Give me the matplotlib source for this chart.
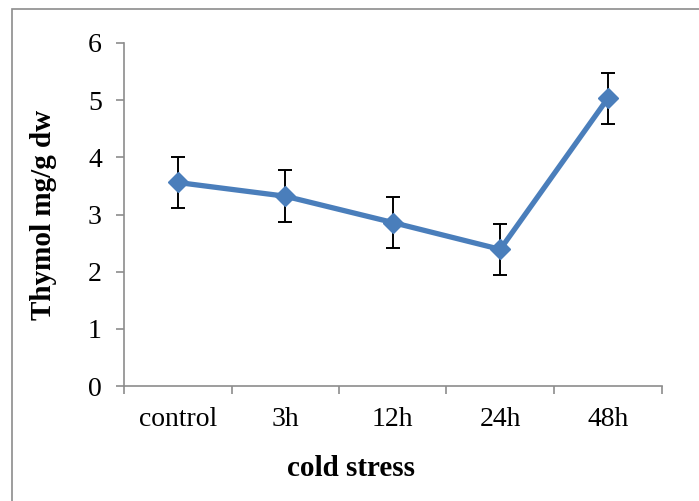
import numpy as np
import matplotlib.pyplot as plt
from matplotlib.patches import Rectangle

# data
categories = ['control', '3h', '12h', '24h', '48h']
thymol = [3.56, 3.32, 2.86, 2.39, 5.03]
errors = [0.45, 0.45, 0.45, 0.45, 0.45]

plt.rcParams['font.family'] = ['Liberation Serif', 'DejaVu Serif']

fig = plt.figure(figsize=(6.99, 5.01), dpi=100)
ax = fig.add_axes([124 / 699, 115 / 501, 537.5 / 699, 343 / 501])

# outer chart border (Excel style)
fig.patches.append(Rectangle((12 / 699, -0.1), 1.2, (501 - 9) / 501 + 0.1,
                             transform=fig.transFigure, fill=False,
                             edgecolor='#8c8c8c', linewidth=1.2))

x = np.arange(len(categories))
ax.errorbar(x, thymol, yerr=errors, fmt='none', ecolor='black',
            elinewidth=1.4, capsize=5, capthick=1.4, zorder=2)
ax.plot(x, thymol, color='#4a7ebb', linewidth=3.8, marker='D',
        markersize=10, zorder=3)

ax.set_xlim(-0.5, len(categories) - 0.5)
ax.set_ylim(0, 6)
ax.set_yticks(range(0, 7))

ax.set_xticks(x)
ax.set_xticklabels(categories)
ax.set_xticks(np.arange(-0.5, len(categories)), minor=True)
ax.tick_params(axis='x', which='major', length=0, pad=15, labelsize=20)
ax.tick_params(axis='x', which='minor', length=6, color='#8c8c8c', width=1.2)
ax.tick_params(axis='y', length=6, color='#8c8c8c', width=1.2, pad=10,
               labelsize=20)

for side in ['top', 'right']:
    ax.spines[side].set_visible(False)
for side in ['left', 'bottom']:
    ax.spines[side].set_color('#8c8c8c')
    ax.spines[side].set_linewidth(1.2)

ax.set_xlabel('cold stress', fontsize=21, fontweight='bold', labelpad=16)
ax.xaxis.set_label_coords(0.423, -0.2)
ax.set_ylabel('Thymol mg/g dw', fontsize=21, fontweight='bold', labelpad=22)

fig.savefig('out.png', dpi=100)
